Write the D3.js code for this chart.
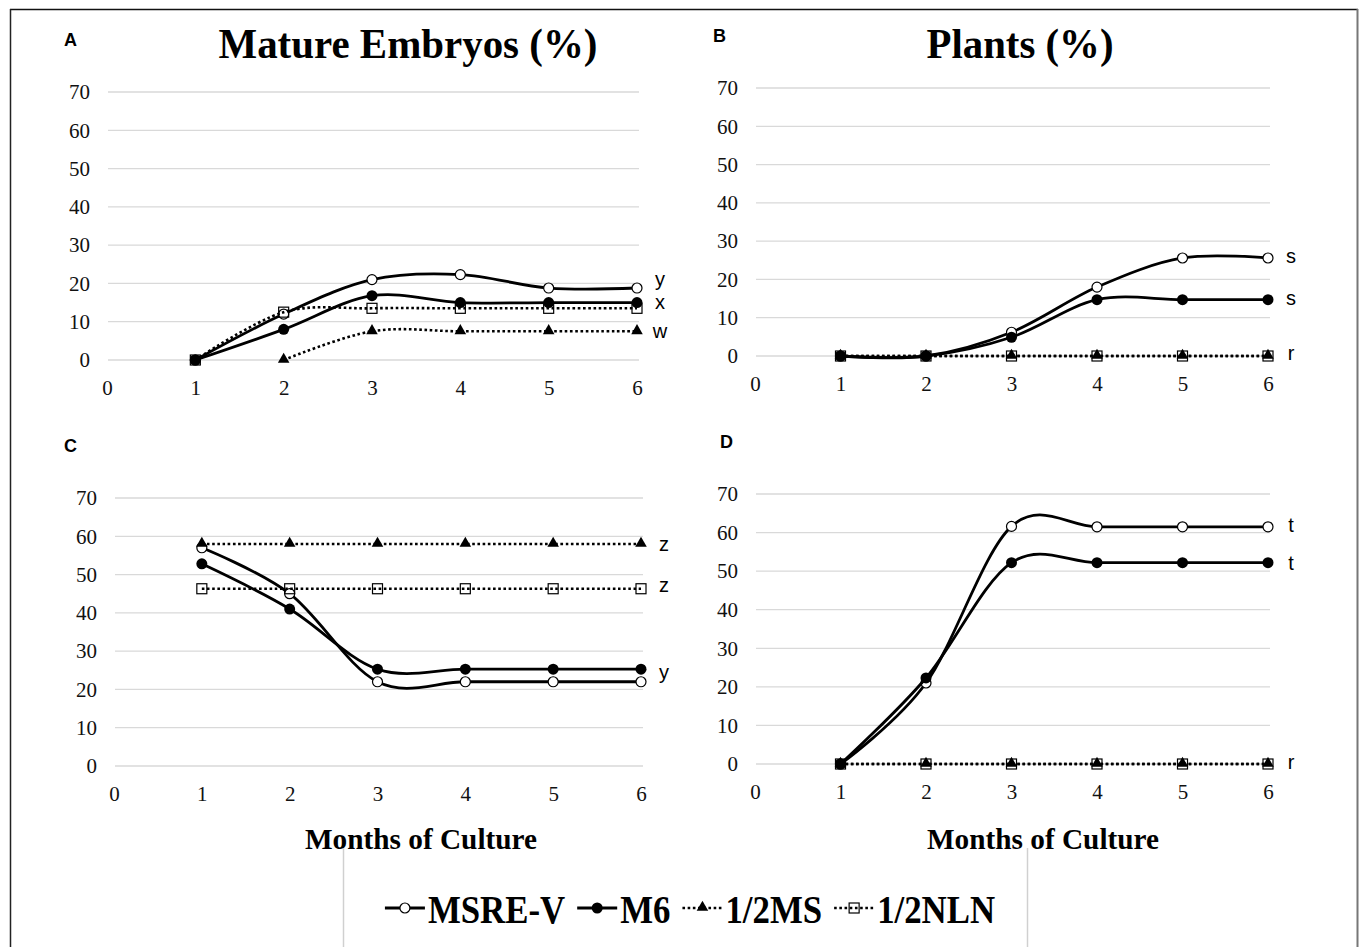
<!DOCTYPE html>
<html>
<head>
<meta charset="utf-8">
<script src="https://cdn.jsdelivr.net/npm/d3@7"></script>
<style>
  body { margin: 0; background: #fff; }
  svg { display: block; }
</style>
</head>
<body>
<svg width="1360" height="947"></svg>
<script>
var months = [1, 2, 3, 4, 5, 6];
var xTicks = [0, 1, 2, 3, 4, 5, 6];
var yTicks = [0, 10, 20, 30, 40, 50, 60, 70];
var seriesNames = ['MSRE-V', 'M6', '1/2MS', '1/2NLN'];

// A - mature embryos
var aMSREV = [0, 12, 21, 22.3, 18.8, 18.8];
var aM6 = [0, 8, 16.8, 15, 15, 15];
var aMS = [null, 0, 7.5, 7.5, 7.5, 7.5];
var aNLN = [0, 12.5, 13.5, 13.5, 13.5, 13.5];
var aLetters = ['y', 'x', 'w'];
var aLetterAt = [20.9, 14.9, 7.3];

// B - plants
var bMSREV = [0, 0, 6.2, 18, 25.6, 25.6];
var bM6 = [0, 0, 4.9, 14.7, 14.7, 14.7];
var bMS = [0, 0, 0, 0, 0, 0];
var bNLN = [0, 0, 0, 0, 0, 0];
var bLetters = ['s', 's', 'r'];
var bLetterAt = [25.9, 14.9, 0.5];

// C
var cMSREV = [57, 45, 22, 22, 22, 22];
var cM6 = [52.8, 41, 25.3, 25.3, 25.3, 25.3];
var cMS = [58, 58, 58, 58, 58, 58];
var cNLN = [46.3, 46.3, 46.3, 46.3, 46.3, 46.3];
var cLetters = ['z', 'z', 'y'];
var cLetterAt = [57.7, 47, 24.3];

// D
var dMSREV = [0, 21, 61.6, 61.5, 61.5, 61.5];
var dM6 = [0, 22.3, 52.2, 52.2, 52.2, 52.2];
var dMS = [0, 0, 0, 0, 0, 0];
var dNLN = [0, 0, 0, 0, 0, 0];
var dLetters = ['t', 't', 'r'];
var dLetterAt = [61.7, 51.9, 0.3];

var serif = '"Liberation Serif", "Times New Roman", serif';
var sans = '"Liberation Sans", Arial, sans-serif';

var svg = d3.select('svg');

var panels = [
  { tag: 'A', left: 107, right: 637, bottom: 360, top: 92, series: [aMSREV, aM6, aMS, aNLN],
    letters: aLetters, letterAt: aLetterAt, title: 'Mature Embryos (%)', titleX: 408, titleW: 379, tagX: 64 },
  { tag: 'B', left: 755, right: 1268, bottom: 356, top: 88, series: [bMSREV, bM6, bMS, bNLN],
    letters: bLetters, letterAt: bLetterAt, title: 'Plants (%)', titleX: 1020, titleW: 187, tagX: 713 },
  { tag: 'C', left: 114, right: 641, bottom: 766, top: 498, series: [cMSREV, cM6, cMS, cNLN],
    letters: cLetters, letterAt: cLetterAt, xTitle: 'Months of Culture', xTitleX: 421, tagX: 64 },
  { tag: 'D', left: 755, right: 1268, bottom: 764, top: 494, series: [dMSREV, dM6, dMS, dNLN],
    letters: dLetters, letterAt: dLetterAt, xTitle: 'Months of Culture', xTitleX: 1043, tagX: 720 }
];

var styles = [
  { dash: null, marker: 'open' },
  { dash: null, marker: 'dot' },
  { dash: '2.6,2.6', marker: 'tri' },
  { dash: '2.6,2.6', marker: 'sq' }
];

function drawMarker(g, kind, cx, cy) {
  if (kind == 'open') {
    g.append('circle').attr('cx', cx).attr('cy', cy).attr('r', 5)
      .attr('fill', '#fff').attr('stroke', '#000').attr('stroke-width', 1.2);
  } else if (kind == 'dot') {
    g.append('circle').attr('cx', cx).attr('cy', cy).attr('r', 5.5).attr('fill', '#000');
  } else if (kind == 'tri') {
    g.append('path').attr('d', d3.symbol().type(d3.symbolTriangle).size(58))
      .attr('transform', 'translate(' + cx + ',' + (cy - 0.5) + ')').attr('fill', '#000');
  } else {
    g.append('rect').attr('x', cx - 5).attr('y', cy - 5).attr('width', 10).attr('height', 10)
      .attr('fill', 'none').attr('stroke', '#000').attr('stroke-width', 1.2);
  }
}

panels.forEach(function(p) {
  var x = d3.scaleLinear().domain([0, 6]).range([p.left, p.right]);
  var y = d3.scaleLinear().domain([0, 70]).range([p.bottom, p.top]);
  var g = svg.append('g');

  // gridlines
  g.append('g').selectAll('line')
    .data(yTicks)
    .enter().append('line')
    .attr('x1', x(0) + 1).attr('x2', x(6) + 2)
    .attr('y1', function(d) { return y(d); })
    .attr('y2', function(d) { return y(d); })
    .attr('stroke', '#d9d9d9').attr('stroke-width', 1.3);

  var ya = g.append('g')
    .attr('transform', 'translate(' + x(0) + ',0)')
    .call(d3.axisLeft(y).tickValues(yTicks).tickSize(0).tickPadding(17).tickFormat(d3.format('d')));
  ya.select('.domain').remove();
  ya.selectAll('text').style('font-family', serif).style('font-size', '21px').attr('fill', '#111');

  var xa = g.append('g')
    .attr('transform', 'translate(0,' + y(0) + ')')
    .call(d3.axisBottom(x).tickValues(xTicks).tickSize(0).tickPadding(20).tickFormat(d3.format('d')));
  xa.select('.domain').remove();
  xa.selectAll('text').style('font-family', serif).style('font-size', '21px').attr('fill', '#111');

  var line = d3.line()
    .defined(function(d) { return d != null; })
    .x(function(d, i) { return x(months[i]); })
    .y(function(d) { return y(d); })
    .curve(d3.curveCatmullRom.alpha(0));

  p.series.forEach(function(vals, si) {
    var st = styles[si];
    g.append('path')
      .attr('d', line(vals))
      .attr('fill', 'none')
      .attr('stroke', '#000')
      .attr('stroke-width', st.dash ? 2.6 : 2.8)
      .attr('stroke-dasharray', st.dash);
    var mg = g.append('g');
    vals.forEach(function(v, i) {
      if (v == null) return;
      drawMarker(mg, st.marker, x(months[i]), y(v));
    });
  });

  // letters at line ends
  g.selectAll('.letter')
    .data(p.letters)
    .enter().append('text')
    .attr('class', 'letter')
    .attr('x', x(6) + 23)
    .attr('y', function(d, i) { return y(p.letterAt[i]); })
    .attr('dy', '0.3em')
    .attr('text-anchor', 'middle')
    .style('font-family', sans).style('font-size', '20px')
    .text(function(d) { return d; });

  // panel tag
  g.append('text')
    .attr('x', p.tagX).attr('y', p.top - 46)
    .style('font-family', sans).style('font-size', '18px').style('font-weight', 'bold')
    .text(p.tag);

  if (p.title) {
    g.append('text')
      .attr('x', p.titleX - p.titleW / 2).attr('y', 58)
      .attr('textLength', p.titleW).attr('lengthAdjust', 'spacingAndGlyphs')
      .style('font-family', serif).style('font-size', '43px').style('font-weight', 'bold')
      .text(p.title);
  }
  if (p.xTitle) {
    g.append('text')
      .attr('x', p.xTitleX - 116).attr('y', 849)
      .attr('textLength', 232).attr('lengthAdjust', 'spacingAndGlyphs')
      .style('font-family', serif).style('font-size', '29px').style('font-weight', 'bold')
      .text(p.xTitle);
  }
});

// legend: texts squeezed to the same narrow look, whole row centred
var lg = svg.append('g');
var ly = 908, squeeze = 0.87, symW = 40, gap = 12;
var items = seriesNames.map(function(name, i) {
  var ig = lg.append('g');
  var st = styles[i];
  ig.append('line')
    .attr('x1', 0).attr('x2', symW).attr('y1', ly).attr('y2', ly)
    .attr('stroke', '#000').attr('stroke-width', st.dash ? 2.6 : 2.8)
    .attr('stroke-dasharray', st.dash);
  drawMarker(ig, st.marker, symW / 2, ly);
  var t = ig.append('text')
    .attr('x', symW + 3).attr('y', 923)
    .style('font-family', serif).style('font-size', '40px').style('font-weight', 'bold')
    .text(name);
  var w = t.node().getComputedTextLength() * squeeze;
  t.attr('textLength', w).attr('lengthAdjust', 'spacingAndGlyphs');
  return { g: ig, w: symW + 3 + w };
});
var total = d3.sum(items, function(d) { return d.w; }) + gap * (items.length - 1);
var lx = 690 - total / 2;
items.forEach(function(it) {
  it.g.attr('transform', 'translate(' + lx + ',0)');
  lx += it.w + gap;
});

// legend box sides and outer frame
svg.append('line').attr('x1', 343.5).attr('x2', 343.5).attr('y1', 848).attr('y2', 947)
  .attr('stroke', '#d0d0d0').attr('stroke-width', 1.5);
svg.append('line').attr('x1', 1027.5).attr('x2', 1027.5).attr('y1', 848).attr('y2', 947)
  .attr('stroke', '#d0d0d0').attr('stroke-width', 1.5);
svg.append('line').attr('x1', 10).attr('x2', 1358).attr('y1', 9.5).attr('y2', 9.5)
  .attr('stroke', '#111').attr('stroke-width', 1.5);
svg.append('line').attr('x1', 10.5).attr('x2', 10.5).attr('y1', 9).attr('y2', 947)
  .attr('stroke', '#222').attr('stroke-width', 1.5);
svg.append('line').attr('x1', 1357.5).attr('x2', 1357.5).attr('y1', 9).attr('y2', 947)
  .attr('stroke', '#777').attr('stroke-width', 2);
</script>
</body>
</html>
